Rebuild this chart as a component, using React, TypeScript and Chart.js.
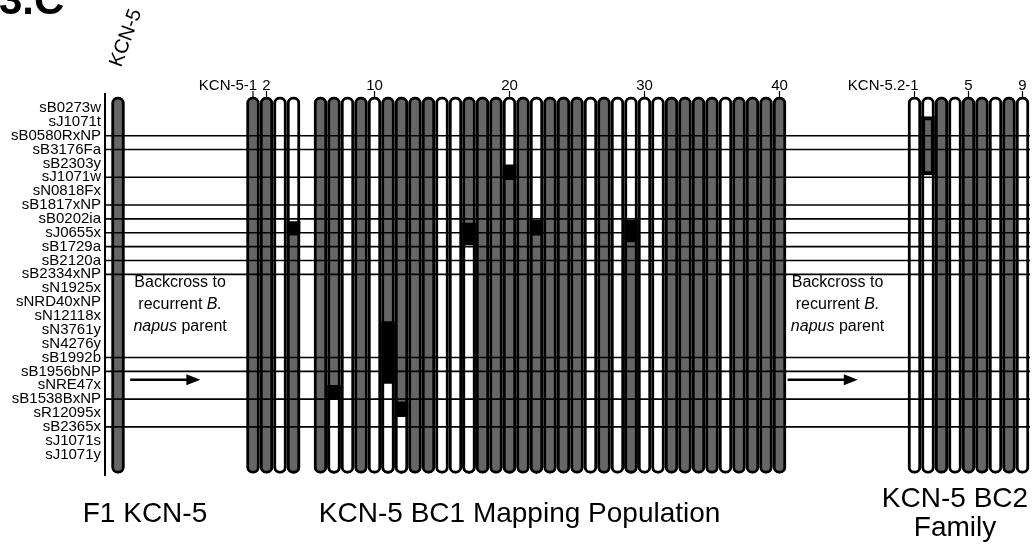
import React, { useEffect, useRef } from 'react';
import { Chart, registerables } from 'chart.js';

Chart.register(...registerables);

// ---------- DATA ----------
const markers = [
  'sB0273w', 'sJ1071t', 'sB0580RxNP', 'sB3176Fa', 'sB2303y', 'sJ1071w', 'sN0818Fx',
  'sB1817xNP', 'sB0202ia', 'sJ0655x', 'sB1729a', 'sB2120a', 'sB2334xNP', 'sN1925x',
  'sNRD40xNP', 'sN12118x', 'sN3761y', 'sN4276y', 'sB1992b', 'sB1956bNP', 'sNRE47x',
  'sB1538BxNP', 'sR12095x', 'sB2365x', 'sJ1071s', 'sJ1071y',
];

// markers (index) that carry a guide line across the figure
const guideMarkers = [2, 3, 5, 7, 8, 9, 10, 11, 12, 18, 19, 21, 23];

// 'K' = KCN-5 segment present (grey), 'N' = recurrent B. napus (white), '' = no plant
const f1Genotype = 'K';

const bc1Upper = [
  'K', 'K', 'N', 'N', '', 'K', 'K', 'N', 'K', 'N',
  'K', 'K', 'K', 'K', 'N', 'N', 'K', 'K', 'K', 'N',
  'K', 'N', 'K', 'K', 'K', 'N', 'K', 'N', 'N', 'N',
  'N', 'K', 'K', 'K', 'K', 'N', 'K', 'K', 'K', 'K',
];
const bc1Lower = [
  'K', 'K', 'N', 'K', '', 'K', 'N', 'N', 'K', 'N',
  'N', 'N', 'K', 'K', 'N', 'N', 'N', 'K', 'K', 'K',
  'K', 'K', 'K', 'K', 'K', 'N', 'K', 'N', 'K', 'N',
  'N', 'K', 'K', 'K', 'K', 'N', 'K', 'K', 'K', 'K',
];
// crossover interval (in marker units) for each BC1 plant
const bc1Crossover: (number[] | null)[] = [
  null, null, null, [8.2, 9.0], null,
  null, [20.0, 20.8], null, null, null,
  [15.4, 19.7], [21.2, 22.1], null, null, null,
  null, [8.3, 9.7], null, null, [4.1, 5.0],
  null, [8.1, 9.0], null, null, null,
  null, null, null, [8.1, 9.5], null,
  null, null, null, null, null,
  null, null, null, null, null,
];

const bc2Genotype = ['N', 'N', 'K', 'N', 'K', 'K', 'N', 'K', 'N'];
const bc2Segment: (number[] | null)[] = [null, [0.63, 4.83], null, null, null, null, null, null, null];

const bc1Labels = [1, 2, 10, 20, 30, 40];
const bc1Prefix = 'KCN-5-';
const bc2Labels = [1, 5, 9];
const bc2Prefix = 'KCN-5.2-';

// ---------- LAYOUT CONSTANTS ----------
const FONT = '"Liberation Sans", Arial, Helvetica, sans-serif';
const CHROM_TOP = -0.8;
const CHROM_BOTTOM = 26.35;
const X_MIN = -0.963;
const X_MAX = 67.556;
const BC1_START = 10; // slot of BC1 plant 1
const BC2_START = 59; // slot of BC2 plant 1
const GREY = '#666666';
const WHITE = '#ffffff';
const colorOf = (g: string) => (g === 'K' ? GREY : WHITE);

type Col = { slot: number; upper: string; lower: string; cross: number[] | null; block: number[] | null };

const cols: Col[] = [];
cols.push({ slot: 0, upper: f1Genotype, lower: f1Genotype, cross: null, block: null });
bc1Upper.forEach((u, i) => {
  if (!u) return;
  cols.push({ slot: BC1_START + i, upper: u, lower: bc1Lower[i], cross: bc1Crossover[i], block: null });
});
bc2Genotype.forEach((g, i) => {
  cols.push({ slot: BC2_START + i, upper: g, lower: g, cross: null, block: bc2Segment[i] });
});

const crossCols = cols.filter((c) => c.cross);
const blockCols = cols.filter((c) => c.block);

const barCommon = {
  type: 'bar' as const,
  grouped: false,
  barThickness: 13,
  borderSkipped: false as const,
  borderColor: '#000',
};

const datasets: any[] = [
  {
    ...barCommon,
    label: 'chromosome',
    order: 5,
    data: cols.map((c) => ({ x: c.slot, y: [CHROM_TOP, CHROM_BOTTOM] })),
    backgroundColor: cols.map((c) => colorOf(c.upper)),
    borderWidth: 3,
    borderRadius: 7,
  },
  {
    ...barCommon,
    label: 'lower',
    order: 4,
    data: crossCols.map((c) => ({ x: c.slot, y: [(c.cross as number[])[1], CHROM_BOTTOM] })),
    backgroundColor: crossCols.map((c) => colorOf(c.lower)),
    borderWidth: 3,
    borderRadius: { topLeft: 0, topRight: 0, bottomLeft: 7, bottomRight: 7 },
  },
  {
    ...barCommon,
    label: 'crossover',
    order: 3,
    data: crossCols.map((c) => ({ x: c.slot, y: c.cross as number[] })),
    backgroundColor: '#000',
    borderWidth: 0,
    borderRadius: 0,
  },
  {
    ...barCommon,
    label: 'segment',
    order: 3,
    data: blockCols.map((c) => ({ x: c.slot, y: c.block as number[] })),
    backgroundColor: GREY,
    borderWidth: 4,
    borderRadius: 0,
  },
  ...guideMarkers.map((m) => ({
    type: 'line' as const,
    label: 'guide ' + markers[m],
    order: 0,
    data: [
      { x: X_MIN, y: m },
      { x: X_MAX, y: m },
    ],
    borderColor: '#000',
    borderWidth: 1.6,
    pointRadius: 0,
    tension: 0,
  })),
];

const textPlugin = {
  id: 'figureText',
  afterDraw(chart: any) {
    const ctx: CanvasRenderingContext2D = chart.ctx;
    const xs = chart.scales.x;
    const ys = chart.scales.y;
    const X = (v: number) => xs.getPixelForValue(v);
    const Y = (v: number) => ys.getPixelForValue(v);
    ctx.save();
    ctx.fillStyle = '#000';
    ctx.strokeStyle = '#000';

    // cropped figure label
    ctx.font = `bold 42px ${FONT}`;
    ctx.textAlign = 'left';
    ctx.textBaseline = 'alphabetic';
    ctx.fillText('3.C', -1, 14);

    // rotated F1 label
    ctx.save();
    ctx.translate(X(0) + 8, 38);
    ctx.rotate((-70 * Math.PI) / 180);
    ctx.font = `20px ${FONT}`;
    ctx.textAlign = 'center';
    ctx.textBaseline = 'middle';
    ctx.fillText('KCN-5', 0, 0);
    ctx.restore();

    // column labels
    const pillTop = Y(CHROM_TOP);
    const colLabel = (slot: number, num: string, prefix: string) => {
      const x = X(slot);
      ctx.font = `15px ${FONT}`;
      ctx.textBaseline = 'alphabetic';
      ctx.textAlign = 'center';
      ctx.fillText(num, x, 90);
      if (prefix) {
        const w = ctx.measureText(num).width;
        ctx.textAlign = 'right';
        ctx.fillText(prefix, x - w / 2, 90);
      }
      ctx.lineWidth = 1.2;
      ctx.beginPath();
      ctx.moveTo(x, 91);
      ctx.lineTo(x, pillTop + 1);
      ctx.stroke();
    };
    bc1Labels.forEach((n, i) => colLabel(BC1_START + n - 1, String(n), i === 0 ? bc1Prefix : ''));
    bc2Labels.forEach((n, i) => colLabel(BC2_START + n - 1, String(n), i === 0 ? bc2Prefix : ''));

    // backcross notes
    const rich = (parts: [string, boolean][], cx: number, cy: number) => {
      const fonts = parts.map(([, it]) => `${it ? 'italic ' : ''}16px ${FONT}`);
      let total = 0;
      const widths = parts.map(([t], i) => {
        ctx.font = fonts[i];
        const w = ctx.measureText(t).width;
        total += w;
        return w;
      });
      let x = cx - total / 2;
      ctx.textAlign = 'left';
      ctx.textBaseline = 'middle';
      parts.forEach(([t], i) => {
        ctx.font = fonts[i];
        ctx.fillText(t, x, cy);
        x += widths[i];
      });
    };
    const note = (slot: number, a0: number, a1: number) => {
      const cx = X(slot);
      const cy = Y(14.2);
      rich([['Backcross to', false]], cx, cy - 22);
      rich([['recurrent ', false], ['B.', true]], cx, cy);
      rich([['napus', true], [' parent', false]], cx, cy + 22);
      const y = Y(19.6);
      const x0 = X(a0);
      const x1 = X(a1);
      ctx.lineWidth = 2.5;
      ctx.beginPath();
      ctx.moveTo(x0, y);
      ctx.lineTo(x1 - 10, y);
      ctx.stroke();
      ctx.beginPath();
      ctx.moveTo(x1, y);
      ctx.lineTo(x1 - 14, y - 5.5);
      ctx.lineTo(x1 - 14, y + 5.5);
      ctx.closePath();
      ctx.fill();
    };
    note(4.6, 0.9, 6.1);
    note(53.3, 49.6, 54.8);

    // captions
    ctx.font = `28px ${FONT}`;
    ctx.textAlign = 'center';
    ctx.textBaseline = 'alphabetic';
    ctx.fillText('F1 KCN-5', X(2), 522);
    ctx.fillText('KCN-5 BC1 Mapping Population', X(29.75), 522);
    ctx.fillText('KCN-5 BC2', X(62), 507);
    ctx.fillText('Family', X(62), 536);
    ctx.restore();
  },
};

export default function App() {
  const ref = useRef<HTMLCanvasElement>(null);
  useEffect(() => {
    const canvas = ref.current;
    if (!canvas) return;
    const chart = new Chart(canvas, {
      type: 'bar',
      data: { datasets },
      options: {
        responsive: false,
        animation: false,
        devicePixelRatio: 1,
        events: [],
        layout: { padding: { top: 94.1, bottom: 70.6, left: 0, right: 6 } },
        plugins: { legend: { display: false }, tooltip: { enabled: false } },
        scales: {
          x: {
            type: 'linear',
            min: X_MIN,
            max: X_MAX,
            display: false,
            offset: false,
          },
          y: {
            type: 'linear',
            reverse: true,
            min: -1,
            max: 26.5,
            afterBuildTicks: (s: any) => {
              s.ticks = markers.map((_, i) => ({ value: i }));
            },
            afterFit: (s: any) => {
              s.width = 105;
            },
            ticks: {
              autoSkip: false,
              padding: 4,
              color: '#000',
              font: { family: FONT, size: 15 },
              callback: (v: any) => markers[v] ?? '',
            },
            grid: { display: false, drawTicks: false },
            border: { display: true, color: '#000', width: 2 },
          },
        },
      } as any,
      plugins: [textPlugin],
    });
    return () => chart.destroy();
  }, []);
  return (
    <div style={{ position: 'absolute', left: 0, top: 0, width: 1036, height: 546, background: '#fff' }}>
      <canvas ref={ref} width={1036} height={546} style={{ display: 'block', width: 1036, height: 546 }} />
    </div>
  );
}
